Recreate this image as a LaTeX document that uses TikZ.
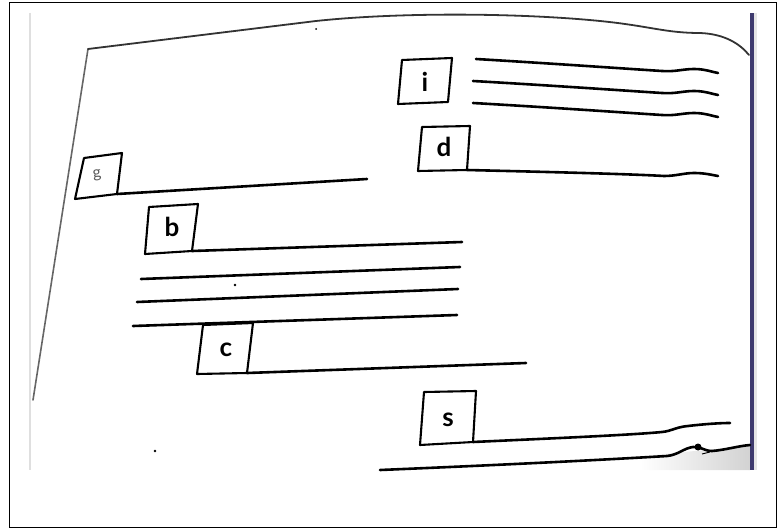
\documentclass[tikz,border=0pt]{standalone}
\usepackage{fontspec}
\setsansfont{Lato}
\definecolor{barblue}{RGB}{62,58,110}
\begin{document}
\begin{tikzpicture}[x=1pt,y=-1pt,
  ink/.style={line width=2.6pt,line cap=round,line join=round},
  boxline/.style={line width=2.1pt,line join=round},
  letter/.style={font=\sffamily\bfseries\fontsize{26}{26}\selectfont}]
  \useasboundingbox (0,0) rectangle (783,529);
  \draw[line width=1pt] (9,3) rectangle (776,527);
  % photo edges
  \draw[gray!25,line width=2.5pt] (30,13) -- (30,470);
  \shade[left color=white,right color=gray!35] (640,456) -- (750,446) -- (750,470) -- (640,470) -- cycle;
  \fill[barblue] (750,13) rectangle (754,470);
  \fill[gray!20] (754,13) rectangle (757,470);

  % page outline
  \draw[black!60,line width=1.6pt,line cap=round] (33,400) -- (88,49);
  \draw[ink,black!80,line width=1.8pt] (88,49) -- (316,21)
    .. controls (400,12) and (520,13) .. (600,21)
    .. controls (650,26) and (665,33) .. (700,33)
    .. controls (725,34) and (740,44) .. (749,55);
  \draw[ink] (380,470) .. controls (500,465) and (600,460) .. (667,456)
    .. controls (678,455) and (684,448) .. (693,447)
    .. controls (700,446) and (704,451) .. (712,451)
    .. controls (725,450) and (738,446) .. (750,445);
  \fill (698,447) circle (3.5);
  \draw[line width=0.9pt] (702,454) -- (710,452);

  % boxes
  \draw[boxline] (84,158) -- (122,153) -- (117,194) -- (75,199) -- cycle;
  \draw[boxline] (149,207) -- (198,204) -- (192,251) -- (145,254) -- cycle;
  \draw[boxline] (203,325) -- (253,323) -- (247,373) -- (197,374) -- cycle;
  \draw[boxline] (402,60) -- (452,58) -- (448,102) -- (398,104) -- cycle;
  \draw[boxline] (422,127) -- (470,126) -- (467,170) -- (418,171) -- cycle;
  \draw[boxline] (424,392) -- (476,391) -- (473,442) -- (420,445) -- cycle;

  % letters
  \node[font=\sffamily\fontsize{16}{16}\selectfont,black!65,rotate=8] (g) at (97,175) {g};
  \node[letter] (b) at (172,227) {b};
  \node[letter] (c) at (226,350) {c};
  \node[letter] (i) at (425,82) {i};
  \node[letter] (d) at (444,147) {d};
  \node[letter] (s) at (448,420) {s};

  % lines
  \draw[ink] (117,194) -- (367,179);
  \draw[ink] (192,251) -- (462,242);
  \draw[ink] (141,279) -- (460,267);
  \draw[ink] (137,302) -- (458,289);
  \draw[ink] (133,326) -- (457,315);
  \draw[ink] (247,373) -- (526,363);
  \foreach \x/\dy in {476/0,473/22,473/44}
    \draw[ink,shift={(0,\dy)}] (\x,59) .. controls (560,64) and (630,69) .. (662,71)
      .. controls (675,72) and (683,69) .. (694,69)
      .. controls (705,69) and (712,72) .. (718,73);
  \draw[ink] (467,170) .. controls (550,172) and (630,174) .. (664,176)
    .. controls (676,176) and (684,173) .. (694,173)
    .. controls (705,173) and (712,175) .. (718,176);
  \draw[ink] (473,442) .. controls (560,438) and (630,435) .. (662,432)
    .. controls (672,431) and (676,427) .. (688,426)
    .. controls (705,424) and (720,423) .. (730,423);

  % specks
  \fill (316,29) circle (1);
  \fill (235,285) circle (1.3);
  \fill (155,451) circle (1.3);
\end{tikzpicture}
\end{document}
